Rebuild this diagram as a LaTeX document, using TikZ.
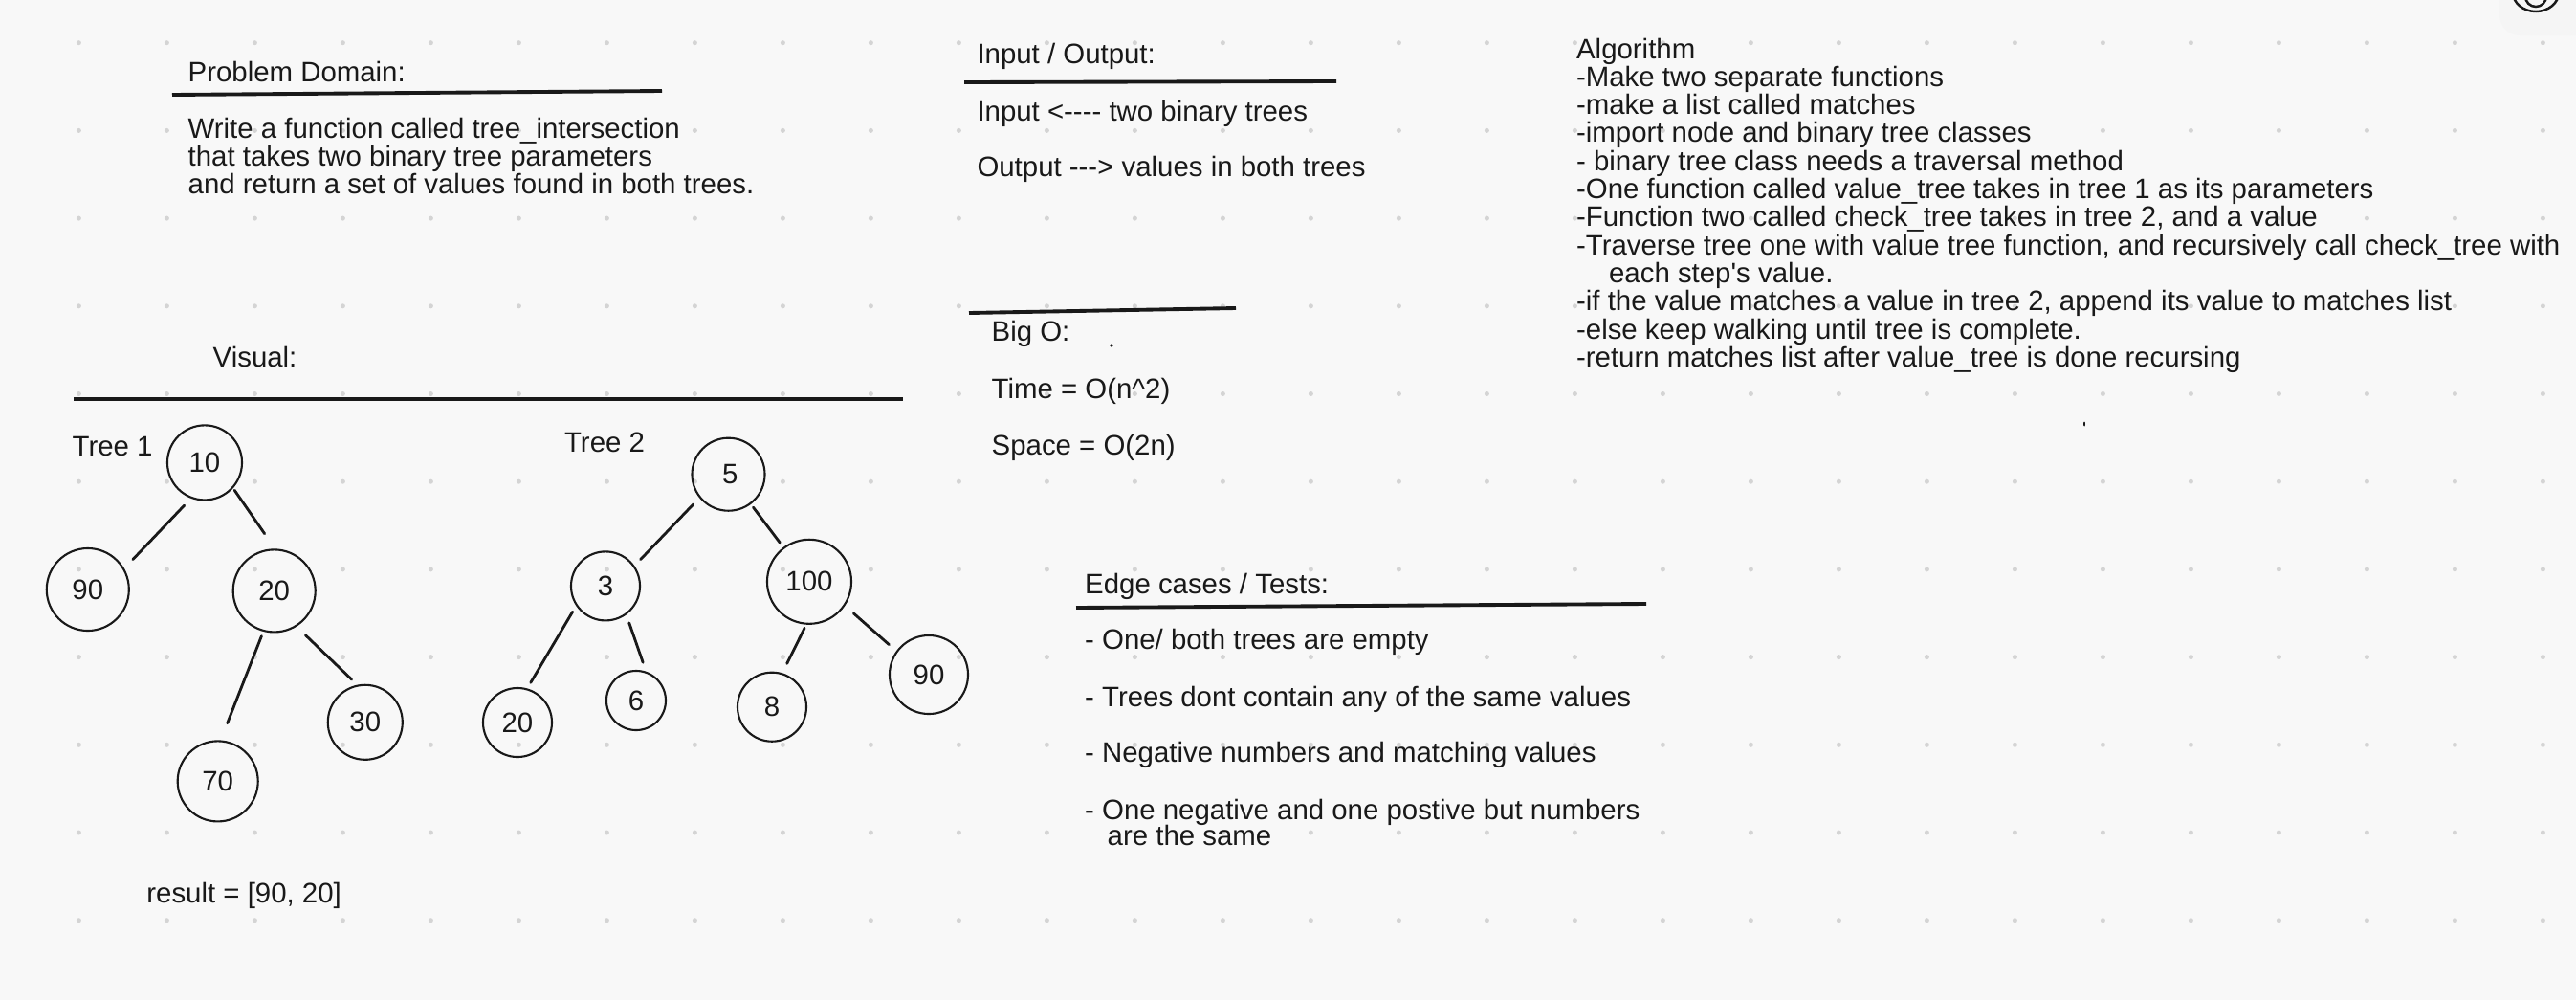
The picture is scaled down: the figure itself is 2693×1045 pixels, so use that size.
\documentclass[tikz,border=0pt]{standalone}
\usepackage{fontspec}
\setmainfont{Liberation Sans}[Ligatures=TeXOff]

\definecolor{paper}{RGB}{248,248,248}
\definecolor{griddot}{RGB}{212,212,212}
\definecolor{ink}{RGB}{25,25,25}

\begin{document}
\begin{tikzpicture}[x=0.01cm, y=-0.01cm,
    txt/.style={anchor=base west, inner sep=0pt, text=ink, font=\fontsize{8.36}{8.5}\selectfont},
    headrule/.style={line width=1.1pt, draw=ink},
    vnode/.style={circle, draw=ink, line width=0.6pt, inner sep=0pt, minimum size=#1, text=ink, font=\fontsize{8.36}{8.5}\selectfont},
    link/.style={line width=0.8pt, draw=ink, line cap=round}]

    % paper and dot grid
    \fill[paper] (0,0) rectangle (2693,1045);
    \useasboundingbox (0,0) rectangle (2693,1045);
    \foreach \i in {0,...,28}
        \foreach \j in {0,...,10}
            \fill[griddot] (82.4+92*\i, 44.7+91.7*\j) circle (0.025cm);
    \fill[black!4, rounded corners=6pt] (2613,-40) rectangle (2720,37);
    \draw[ink, line width=0.7pt] (2651,-8) ellipse (0.24cm and 0.2cm);
    \draw[ink, line width=0.7pt] (2651,-4) circle (0.11cm);

    % problem domain
    \node[txt] (pdhead) at (196,85) {Problem Domain:};
    \draw[headrule] (180,99) -- (692,95);
    \node[txt] (pd1) at (196,144) {Write a function called tree\_intersection};
    \node[txt] (pd2) at (196,173) {that takes two binary tree parameters};
    \node[txt] (pd3) at (196,202) {and return a set of values found in both trees.};

    % visual
    \node[txt] (vishead) at (222,383) {Visual:};
    \draw[headrule] (77,417) -- (944,417);
    \node[txt] (t1label) at (75,476.5) {Tree 1};
    \node[txt] (t2label) at (589.4,472.7) {Tree 2};

    \node[vnode=0.78cm] (a10) at (214,483.4) {10};
    \node[vnode=0.86cm] (a90) at (91.8,616) {90};
    \node[vnode=0.86cm] (a20) at (286.7,617.4) {20};
    \node[vnode=0.78cm] (a30) at (381.8,754.8) {30};
    \node[vnode=0.84cm] (a70) at (227.7,816.4) {70};

    \node[vnode=0.76cm, text depth=-0.12cm, text width=0.2cm, align=right] (b5) at (761.5,495.7) {5};
    \node[vnode=0.72cm] (b3) at (633,612.4) {3};
    \node[vnode=0.88cm] (b100) at (846,607.8) {100};
    \node[vnode=0.72cm] (b20) at (541,755) {20};
    \node[vnode=0.62cm] (b6) at (665,732) {6};
    \node[vnode=0.72cm] (b8) at (807,738.7) {8};
    \node[vnode=0.82cm] (b90) at (971,705) {90};

    \foreach \s/\p/\e/\q/\g/\h in {a10/249/a90/30/0.10/0.13, a10/318/a20/89/0.025/0.19,
        a20/255/a70/86/0.05/0.19, a20/302/a30/102/0.13/0.08,
        b5/219/b3/35/0.09/0.09, b5/307/b100/127/0.04/0.06,
        b3/214/b20/74/0.07/0.07, b3/306/b6/71/0.09/0.10,
        b100/266/b8/73/0.04/0.11, b100/326/b90/144/0.12/0.10}
        \draw[link, shorten <=\g cm, shorten >=\h cm] (\s.\p) -- (\e.\q);

    \node[txt] (result) at (152.7,943.4) {result = [90, 20]};

    % input / output and big o
    \node[txt] (iohead) at (1020.8,66.7) {Input / Output:};
    \draw[headrule] (1008,86) -- (1397,85);
    \node[txt] (inp) at (1020.8,126.7) {Input <---- two binary trees};
    \node[txt] (outp) at (1020.8,184.3) {Output ---> values in both trees};

    \draw[headrule] (1013,327) -- (1292,322);
    \node[txt] (bighead) at (1036,356.7) {Big O:};
    \fill[ink] (1162,361) circle (0.018cm);
    \node[txt] (timec) at (1036,416.7) {Time = O(n\textasciicircum 2)};
    \node[txt] (spacec) at (1036,475) {Space = O(2n)};

    % algorithm
    \foreach \txtline [count=\k from 0] in {{Algorithm}, {-Make two separate functions},
        {-make a list called matches}, {-import node and binary tree classes},
        {- binary tree class needs a traversal method},
        {-One function called value\_tree takes in tree 1 as its parameters},
        {-Function two called check\_tree takes in tree 2, and a value},
        {-Traverse tree one with value tree function, and recursively call check\_tree with},
        {\hspace{0.34cm}each step's value.},
        {-if the value matches a value in tree 2, append its value to matches list},
        {-else keep walking until tree is complete.},
        {-return matches list after value\_tree is done recursing}}
        \node[txt] (alg\k) at (1647.4, 61+29.3*\k) {\txtline};
    \fill[ink] (2179,443) ellipse (0.01cm and 0.025cm);

    % edge cases
    \node[txt] (edgehead) at (1133.5,620.7) {Edge cases / Tests:};
    \draw[headrule] (1125,635) -- (1721,631);
    \node[txt] (ec1) at (1133.5,678.3) {- One/ both trees are empty};
    \node[txt] (ec2) at (1133.5,738.3) {- Trees dont contain any of the same values};
    \node[txt] (ec3) at (1133.5,796) {- Negative numbers and matching values};
    \node[txt] (ec4) at (1133.5,856) {- One negative and one postive but numbers};
    \node[txt] (ec4b) at (1157,883.3) {are the same};
\end{tikzpicture}
\end{document}
